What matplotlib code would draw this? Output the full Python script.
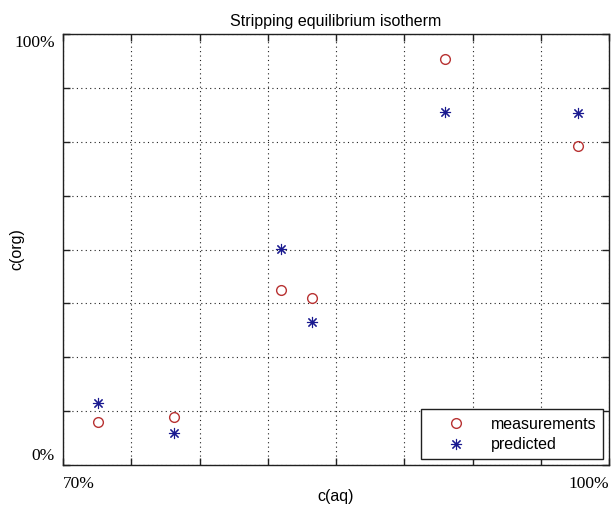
import matplotlib
matplotlib.use('Agg')
from matplotlib import pyplot as plt

# aqueous / organic concentrations (fraction of full scale)
c_aq = [0.719, 0.761, 0.820, 0.837, 0.910, 0.983]
c_org_meas = [0.100, 0.111, 0.406, 0.388, 0.942, 0.740]
c_org_pred = [0.144, 0.074, 0.501, 0.332, 0.819, 0.817]

x_lim = [0.70, 1.00]
y_lim = [0.0, 1.0]
x_labels = ['70%', '100%']
y_labels = ['0%', '100%']

plt.rcParams['font.family'] = ['Liberation Sans', 'DejaVu Sans']

fig = plt.figure(figsize=(6.13, 5.15), dpi=100)
ax = fig.add_axes([63/613, 50/515, 546/613, 431/515])

ax.plot(c_aq, c_org_meas, 'o', mfc='none', mec='#b83232', ms=7, mew=1.0,
        label='measurements')
# 8-armed asterisk like the classic '*' marker
ax.plot(c_aq, c_org_pred, ls='none', marker=(8, 2, 0), color='#1a1a90',
        ms=8, mew=0.8, label='predicted')

ax.set_xlim(x_lim)
ax.set_ylim(y_lim)

# 8 grid intervals on each axis, no tick text
nx = 8
ax.set_xticks([x_lim[0] + i*(x_lim[1]-x_lim[0])/nx for i in range(nx+1)])
ax.set_yticks([y_lim[0] + i*(y_lim[1]-y_lim[0])/nx for i in range(nx+1)])
ax.set_xticklabels([])
ax.set_yticklabels([])
ax.tick_params(direction='in', length=5, width=1, top=True, right=True,
               color='#202020')
ax.grid(True, linestyle=(0, (1, 3)), color='#202020', linewidth=0.8)
for s in ax.spines.values():
    s.set_color('#202020')
    s.set_linewidth(1.0)

# end labels in serif
serif = ['Liberation Serif', 'DejaVu Serif']
ax.text(-0.015, 0.98, y_labels[1], transform=ax.transAxes, ha='right',
        va='center', family=serif, fontsize=12.5)
ax.text(-0.015, 0.02, y_labels[0], transform=ax.transAxes, ha='right',
        va='center', family=serif, fontsize=12.5)
ax.text(0.0, -0.045, x_labels[0], transform=ax.transAxes, ha='left',
        va='center', family=serif, fontsize=12.5)
ax.text(1.0, -0.045, x_labels[1], transform=ax.transAxes, ha='right',
        va='center', family=serif, fontsize=12.5)

ax.set_title('Stripping equilibrium isotherm', fontsize=11.5, pad=6)
ax.set_xlabel('c(aq)', fontsize=11.5, labelpad=14)
ax.set_ylabel('c(org)', fontsize=11.5, labelpad=24)

leg = ax.legend(loc='lower right', fontsize=11.5, fancybox=False,
                framealpha=1, edgecolor='#202020', borderaxespad=0.35,
                handlelength=3.5, handletextpad=0.4, borderpad=0.45,
                labelspacing=0.35)
leg.get_frame().set_linewidth(1.0)

fig.savefig('out.png', dpi=100)
